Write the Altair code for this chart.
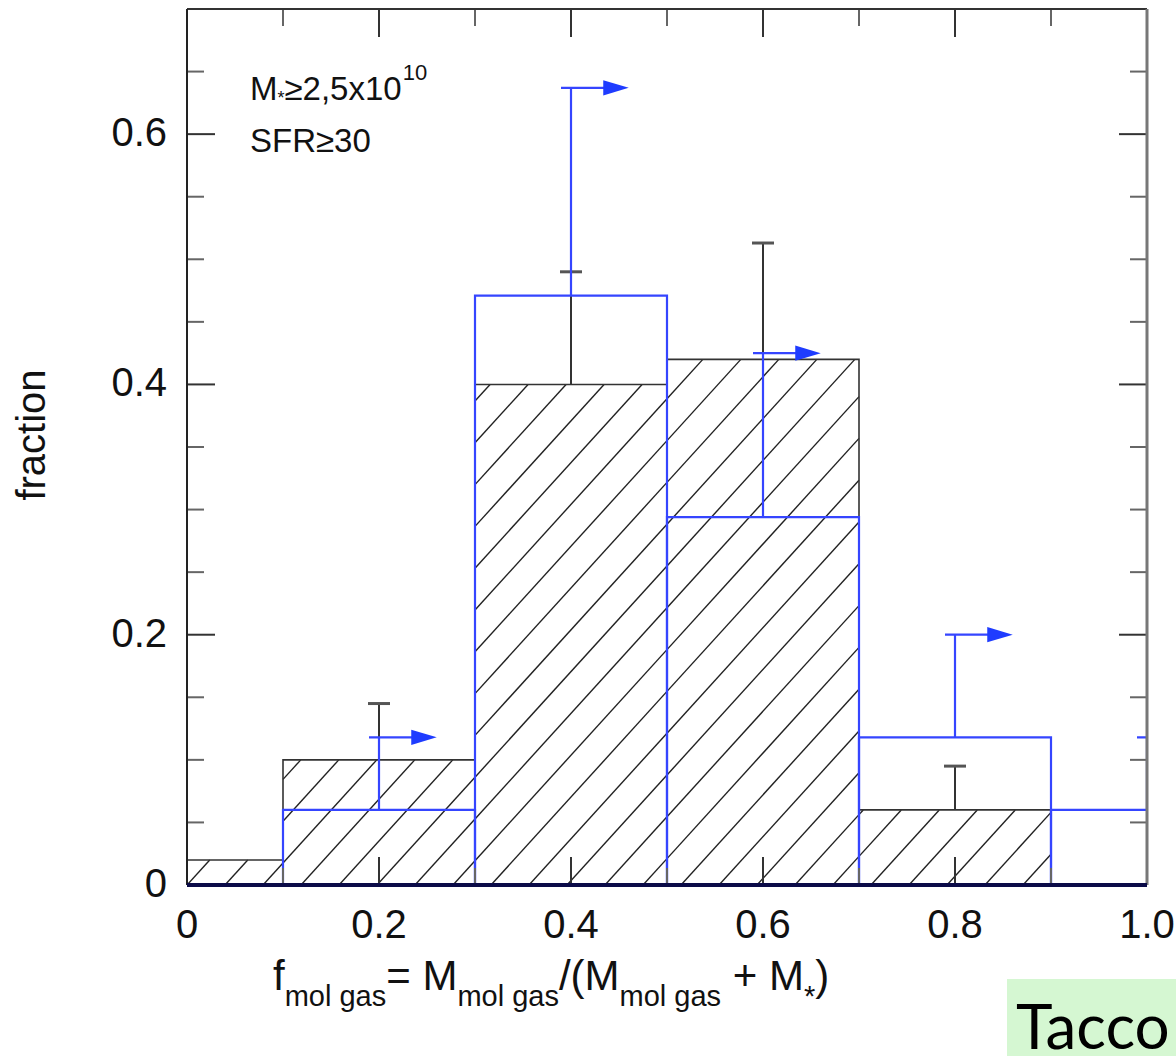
import altair as alt
import pandas as pd
import numpy as np

# ---------------- data ----------------
black_centers = [0.0, 0.2, 0.4, 0.6, 0.8]
black_fraction = [0.02, 0.10, 0.40, 0.42, 0.06]
black_err_center = [0.2, 0.4, 0.6, 0.8]
black_err_low = [0.10, 0.40, 0.42, 0.06]
black_err_high = [0.145, 0.49, 0.513, 0.095]

blue_centers = [0.2, 0.4, 0.6, 0.8, 1.0]
blue_fraction = [0.06, 0.471, 0.294, 0.118, 0.06]
blue_limit = [0.118, 0.637, 0.425, 0.20, 0.118]

bin_width = 0.2

x_labels = [0, 0.2, 0.4, 0.6, 0.8, 1.0]
x_label_text = ["0", "0.2", "0.4", "0.6", "0.8", "1.0"]
y_labels = [0, 0.2, 0.4, 0.6]
y_label_text = ["0", "0.2", "0.4", "0.6"]
x_major = [0.2, 0.4, 0.6, 0.8]
x_minor = [0.1, 0.3, 0.5, 0.7, 0.9]
y_major = [0.2, 0.4, 0.6]
y_minor = [0.05, 0.1, 0.15, 0.25, 0.3, 0.35, 0.45, 0.5, 0.55, 0.65]

# ---------------- layout ----------------
W, H = 960, 876
XMIN, XMAX = 0.0, 1.0
YMIN, YMAX = 0.0, 0.7
BLUE = "#3545ff"
ARROW = "#1f3cff"
FONT = "Liberation Sans"

xs = alt.Scale(domain=[XMIN, XMAX], nice=False, zero=False)
ys = alt.Scale(domain=[YMIN, YMAX], nice=False, zero=False)

black_df = pd.DataFrame({
    "x": [c - bin_width / 2 for c in black_centers],
    "x2": [c + bin_width / 2 for c in black_centers],
    "y": 0.0,
    "y2": black_fraction,
})
blue_df = pd.DataFrame({
    "x": [c - bin_width / 2 for c in blue_centers],
    "x2": [c + bin_width / 2 for c in blue_centers],
    "y": 0.0,
    "y2": blue_fraction,
})
berr_df = pd.DataFrame({"c": black_err_center, "lo": black_err_low, "hi": black_err_high})
blim_df = pd.DataFrame({"c": blue_centers, "lo": blue_fraction, "hi": blue_limit})

# hatch lines (derived from the black bar rectangles)
px_per_x = W / (XMAX - XMIN)
px_per_y = H / (YMAX - YMIN)
slope = 1.1      # pixels up per pixel right
spacing = 38.0   # horizontal spacing in px
segs = []
for c, f in zip(black_centers, black_fraction):
    X0 = max(XMIN, c - bin_width / 2) * px_per_x
    X1 = min(XMAX, c + bin_width / 2) * px_per_x
    Hb = f * px_per_y
    kmin = int(np.floor((X0 - Hb / slope) / spacing)) - 1
    kmax = int(np.ceil(X1 / spacing)) + 1
    for k in range(kmin, kmax + 1):
        c0 = k * spacing
        lo = max(X0, c0)
        hi = min(X1, c0 + Hb / slope)
        if hi - lo > 0.5:
            segs.append({
                "x": lo / px_per_x, "y": slope * (lo - c0) / px_per_y,
                "x2": hi / px_per_x, "y2": slope * (hi - c0) / px_per_y,
            })
hatch_df = pd.DataFrame(segs)

one = pd.DataFrame({"d": [0]})

X = lambda f: alt.X(f, scale=xs, axis=None)
Y = lambda f: alt.Y(f, scale=ys, axis=None)

layers = []

# hatch
layers.append(alt.Chart(hatch_df).mark_rule(color="#222", strokeWidth=1.4, clip=True).encode(
    x=X("x:Q"), y=Y("y:Q"), x2="x2:Q", y2="y2:Q"))

# black bars
layers.append(alt.Chart(black_df).mark_rect(fill=None, stroke="#333", strokeWidth=1.6, clip=True).encode(
    x=X("x:Q"), x2="x2:Q", y=Y("y:Q"), y2="y2:Q"))

# black error bars
layers.append(alt.Chart(berr_df).mark_rule(color="#333", strokeWidth=2, clip=True).encode(
    x=X("c:Q"), y=Y("lo:Q"), y2="hi:Q"))
layers.append(alt.Chart(berr_df).mark_rule(color="#555", strokeWidth=3, clip=True, xOffset=-11, x2Offset=11).encode(
    x=X("c:Q"), x2="c:Q", y=Y("hi:Q")))

# blue bars
layers.append(alt.Chart(blue_df).mark_rect(fill=None, stroke=BLUE, strokeWidth=2.2, clip=True).encode(
    x=X("x:Q"), x2="x2:Q", y=Y("y:Q"), y2="y2:Q"))

# blue lower limits with arrows
layers.append(alt.Chart(blim_df).mark_rule(color=BLUE, strokeWidth=2.2, clip=True).encode(
    x=X("c:Q"), y=Y("lo:Q"), y2="hi:Q"))
layers.append(alt.Chart(blim_df).mark_rule(color=BLUE, strokeWidth=2.2, clip=True, xOffset=-10, x2Offset=33).encode(
    x=X("c:Q"), x2="c:Q", y=Y("hi:Q")))
layers.append(alt.Chart(blim_df).mark_point(shape="M-1,-0.6L1,0L-1,0.6Z", filled=True, color=ARROW,
                                            opacity=1, size=650, xOffset=45, clip=True).encode(
    x=X("c:Q"), y=Y("hi:Q")))

# ticks (inward)
def ticks(vals, side, length, color, width):
    df = pd.DataFrame({"v": vals})
    if side in ("bottom", "top"):
        yv = YMIN if side == "bottom" else YMAX
        off = -length if side == "bottom" else length
        return alt.Chart(df).mark_rule(color=color, strokeWidth=width, y2Offset=off).encode(
            x=X("v:Q"), y=alt.Y(datum=yv, scale=ys, axis=None), y2=alt.Y2(datum=yv))
    xv = XMIN if side == "left" else XMAX
    off = length if side == "left" else -length
    return alt.Chart(df).mark_rule(color=color, strokeWidth=width, x2Offset=off).encode(
        y=Y("v:Q"), x=alt.X(datum=xv, scale=xs, axis=None), x2=alt.X2(datum=xv))

for side in ("bottom", "top"):
    layers.append(ticks(x_major, side, 28, "#333", 2))
    layers.append(ticks(x_minor, side, 17, "#666", 2))
for side in ("left", "right"):
    layers.append(ticks(y_major, side, 28, "#333", 2))
    layers.append(ticks(y_minor, side, 17, "#666", 2))

# frame
def frame(x, x2, y, y2, color, width):
    return alt.Chart(one).mark_rule(color=color, strokeWidth=width).encode(
        x=alt.X(datum=x, scale=xs, axis=None), x2=alt.X2(datum=x2),
        y=alt.Y(datum=y, scale=ys, axis=None), y2=alt.Y2(datum=y2))

layers.append(frame(XMIN, XMAX, YMAX, YMAX, "#333", 2))
layers.append(frame(XMIN, XMIN, YMIN, YMAX, "#222", 2))
layers.append(frame(XMAX, XMAX, YMIN, YMAX, "#777", 3))
layers.append(frame(XMIN, XMAX, YMIN, YMIN, "#0b0b48", 4))

# tick labels (through the scales)
xl_df = pd.DataFrame({"v": x_labels, "t": x_label_text})
yl_df = pd.DataFrame({"v": y_labels, "t": y_label_text})
layers.append(alt.Chart(xl_df).mark_text(font=FONT, fontSize=40, color="#111", align="center",
                                         baseline="top", dy=21).encode(
    x=X("v:Q"), y=alt.Y(datum=YMIN, scale=ys, axis=None), text="t:N"))
layers.append(alt.Chart(yl_df).mark_text(font=FONT, fontSize=40, color="#111", align="right",
                                         baseline="middle", dx=-20).encode(
    y=Y("v:Q"), x=alt.X(datum=XMIN, scale=xs, axis=None), text="t:N"))

# ---------------- text ----------------
OX, OY = 187, 9  # plot origin on the page

def text(s, ax, ay, size, font=FONT, align="left", baseline="alphabetic", angle=0, color="#111"):
    kw = dict(text=s, align=align, baseline=baseline, fontSize=size, font=font, color=color)
    if angle:
        kw["angle"] = angle
    return alt.Chart(one).mark_text(**kw).encode(x=alt.value(ax - OX), y=alt.value(ay - OY))

ARIAL_W = {"f": .278, "m": .833, "o": .556, "l": .222, " ": .278, "g": .556, "a": .556,
           "s": .5, "=": .584, "M": .833, "/": .278, "(": .333, ")": .333, "+": .584, "*": .389}

def width(s, size):
    return sum(ARIAL_W.get(ch, .556) for ch in s) * size

MAIN, SUB = 42, 29
# (text, subscript?, extra space before in em of main font)
pieces = [("f", False, 0), ("mol gas", True, 0), ("= M", False, 0), ("mol gas", True, 0),
          ("/(M", False, 0), ("mol gas", True, 0), ("+ M", False, 0.278), ("*", True, 0), (")", False, 0)]
cx = 273
for s, sub, pre in pieces:
    size = SUB if sub else MAIN
    cx += pre * MAIN
    layers.append(text(s, cx, 1006 if sub else 990, size))
    cx += width(s, size)

layers.append(text("fraction", 33, 435, 40, align="center", baseline="middle", angle=270))

# annotation
ax0 = 250
layers.append(text("M", ax0, 100, 33))
ax1 = ax0 + width("M", 33)
layers.append(text("*", ax1, 104, 18))
ax2 = ax1 + 0.389 * 18
layers.append(text("\u22652,5x10", ax2, 100, 33))
ax3 = ax2 + (0.549 + 3.002) * 33
layers.append(text("10", ax3 + 1, 80, 22))
layers.append(text("SFR\u226530", ax0, 152, 33))

# Tacco box
layers.append(alt.Chart(one).mark_rect(color="#d5f7d2").encode(
    x=alt.value(1007 - OX), x2=alt.value(1180 - OX), y=alt.value(979 - OY), y2=alt.value(1060 - OY)))
layers.append(text("Tacco", 1016, 1049, 62, font="Lato", color="#000"))

chart = alt.layer(*layers).properties(
    width=W, height=H,
    padding={"left": OX, "top": OY, "right": 1176 - OX - W, "bottom": 1056 - OY - H},
    autosize=alt.AutoSizeParams(type="none"),
).configure_view(stroke=None)

chart.save("out.html", embed_options={"renderer": "svg", "actions": False})
